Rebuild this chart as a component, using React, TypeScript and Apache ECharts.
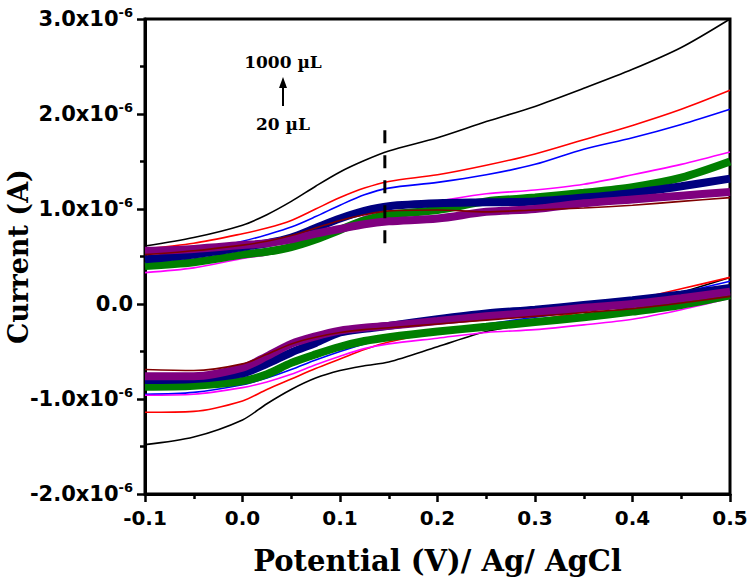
import React, { useEffect, useRef } from "react";
import * as echarts from "echarts";

// Potential grid (V vs Ag/AgCl)
const potentials = [-0.1, -0.05, 0, 0.025, 0.05, 0.075, 0.1, 0.125, 0.15, 0.2, 0.25, 0.3, 0.35, 0.4, 0.45, 0.5];

// Anodic (upper) branch currents, x10^-6 A
const blackUp = [0.61, 0.7, 0.83, 0.94, 1.08, 1.24, 1.39, 1.51, 1.61, 1.75, 1.92, 2.08, 2.27, 2.47, 2.7, 3.0];
const redUp = [0.58, 0.64, 0.74, 0.8, 0.88, 1.0, 1.12, 1.22, 1.29, 1.36, 1.46, 1.58, 1.73, 1.88, 2.05, 2.25];
const blueUp = [0.47, 0.54, 0.66, 0.73, 0.81, 0.92, 1.04, 1.15, 1.22, 1.28, 1.36, 1.47, 1.63, 1.75, 1.89, 2.05];
const magentaUp = [0.33, 0.38, 0.48, 0.52, 0.58, 0.68, 0.8, 0.92, 1.0, 1.08, 1.16, 1.2, 1.26, 1.36, 1.47, 1.6];
const greenUp = [0.4, 0.44, 0.52, 0.55, 0.6, 0.68, 0.78, 0.88, 0.94, 0.99, 1.08, 1.12, 1.17, 1.23, 1.33, 1.5];
const navyUp = [0.47, 0.52, 0.6, 0.64, 0.7, 0.8, 0.9, 0.98, 1.03, 1.06, 1.07, 1.08, 1.12, 1.17, 1.24, 1.32];
const purpleUp = [0.56, 0.58, 0.62, 0.64, 0.68, 0.74, 0.79, 0.84, 0.87, 0.9, 0.97, 1.0, 1.06, 1.1, 1.14, 1.18];
const darkRedUp = [0.52, 0.56, 0.62, 0.66, 0.72, 0.8, 0.88, 0.94, 0.98, 0.99, 0.97, 0.99, 1.01, 1.04, 1.08, 1.12];

// Cathodic (lower) branch currents, x10^-6 A
const blackDown = [-1.48, -1.4, -1.22, -1.05, -0.9, -0.78, -0.7, -0.65, -0.61, -0.45, -0.29, -0.2, -0.13, -0.03, 0.12, 0.28];
const redDown = [-1.14, -1.13, -1.02, -0.9, -0.79, -0.68, -0.58, -0.48, -0.4, -0.3, -0.24, -0.17, -0.08, 0.04, 0.16, 0.28];
const blueDown = [-0.95, -0.93, -0.85, -0.78, -0.69, -0.59, -0.5, -0.42, -0.36, -0.28, -0.21, -0.14, -0.07, 0.01, 0.12, 0.24];
const magentaDown = [-0.96, -0.95, -0.88, -0.82, -0.74, -0.64, -0.55, -0.47, -0.42, -0.36, -0.3, -0.27, -0.22, -0.16, -0.06, 0.06];
const greenDown = [-0.87, -0.86, -0.81, -0.74, -0.62, -0.53, -0.45, -0.39, -0.35, -0.29, -0.24, -0.19, -0.14, -0.08, -0.01, 0.09];
const navyDown = [-0.8, -0.79, -0.73, -0.63, -0.51, -0.41, -0.3, -0.26, -0.23, -0.16, -0.1, -0.06, -0.01, 0.04, 0.1, 0.17];
const purpleDown = [-0.76, -0.76, -0.67, -0.55, -0.42, -0.34, -0.28, -0.25, -0.23, -0.18, -0.13, -0.09, -0.04, 0.0, 0.06, 0.13];
const darkRedDown = [-0.69, -0.7, -0.63, -0.53, -0.42, -0.35, -0.3, -0.27, -0.25, -0.21, -0.17, -0.13, -0.09, -0.05, 0.01, 0.08];

// Dashed marker line
const dashPotential = [0.146, 0.146];
const dashCurrent = [1.83, 0.59];

const yTicks = { min: -2e-6, max: 3e-6, interval: 1e-6 };
const xTicks = { min: -0.1, max: 0.5, interval: 0.1 };

const curves = [
  { name: "1000 µL", color: "#000000", width: 1.6, up: blackUp, down: blackDown },
  { name: "red", color: "#ff0000", width: 1.6, up: redUp, down: redDown },
  { name: "blue", color: "#0000ff", width: 1.6, up: blueUp, down: blueDown },
  { name: "magenta", color: "#ff00ff", width: 1.6, up: magentaUp, down: magentaDown },
  { name: "green", color: "#007f00", width: 8, up: greenUp, down: greenDown },
  { name: "navy", color: "#00007f", width: 8, up: navyUp, down: navyDown },
  { name: "purple", color: "#7f007f", width: 8, up: purpleUp, down: purpleDown },
  { name: "20 µL", color: "#7f0000", width: 1.6, up: darkRedUp, down: darkRedDown },
];

const tickFont = "DejaVu Sans";
const titleFont = "DejaVu Serif";

export default function App() {
  const ref = useRef<HTMLDivElement>(null);
  useEffect(() => {
    if (!ref.current) return;
    const chart = echarts.init(ref.current, undefined, { renderer: "svg" });
    const series: any[] = [];
    curves.forEach((c) => {
      ["up", "down"].forEach((k) => {
        const vals = (c as any)[k] as number[];
        series.push({
          name: c.name,
          type: "line",
          smooth: 0.3,
          symbol: "none",
          silent: true,
          lineStyle: { color: c.color, width: c.width },
          data: potentials.map((v, i) => [v, vals[i] * 1e-6]),
        });
      });
    });
    series.push({
      name: "marker",
      type: "line",
      symbol: "none",
      silent: true,
      lineStyle: { color: "#000", width: 3, type: [13, 12] },
      data: dashPotential.map((v, i) => [v, dashCurrent[i] * 1e-6]),
    });

    chart.setOption({
      animation: false,
      grid: {
        left: 145,
        right: 20,
        top: 19,
        bottom: 86,
        show: true,
        borderColor: "#000",
        borderWidth: 3,
        containLabel: false,
        outerBoundsMode: "none",
      },
      xAxis: {
        type: "value",
        min: xTicks.min,
        max: xTicks.max,
        interval: xTicks.interval,
        name: "Potential (V)/ Ag/ AgCl",
        nameLocation: "middle",
        nameGap: 52,
        nameMoveOverlap: false,
        nameTextStyle: { fontFamily: titleFont, fontWeight: "bold", fontSize: 29, color: "#000" },
        axisLine: { show: true, onZero: false, lineStyle: { color: "#000", width: 3 } },
        axisTick: { show: true, length: 8, lineStyle: { color: "#000", width: 2.5 } },
        minorTick: { show: true, splitNumber: 2, length: 5, lineStyle: { color: "#000", width: 2.5 } },
        splitLine: { show: false },
        axisLabel: {
          margin: 14,
          color: "#000",
          fontFamily: tickFont,
          fontWeight: "bold",
          fontSize: 20,
          formatter: (v: number) => (Math.round(v * 10) / 10).toFixed(1),
        },
      },
      yAxis: {
        type: "value",
        min: yTicks.min,
        max: yTicks.max,
        interval: yTicks.interval,
        name: "Current (A)",
        nameLocation: "middle",
        nameGap: 113,
        nameMoveOverlap: false,
        nameTextStyle: { fontFamily: titleFont, fontWeight: "bold", fontSize: 27, color: "#000" },
        axisLine: { show: true, onZero: false, lineStyle: { color: "#000", width: 3 } },
        axisTick: { show: true, length: 8, lineStyle: { color: "#000", width: 2.5 } },
        minorTick: { show: true, splitNumber: 2, length: 5, lineStyle: { color: "#000", width: 2.5 } },
        splitLine: { show: false },
        axisLabel: {
          margin: 12,
          color: "#000",
          formatter: (v: number) => {
            const m = Math.round(v * 1e7) / 10;
            if (m === 0) return "{m|0.0}";
            return `{m|${m.toFixed(1)}x10}{s|-6}`;
          },
          rich: {
            m: { fontFamily: tickFont, fontWeight: "bold", fontSize: 21, color: "#000", lineHeight: 26 },
            s: { fontFamily: tickFont, fontWeight: "bold", fontSize: 13, color: "#000", verticalAlign: "top", lineHeight: 14 },
          },
        },
      },
      graphic: [
        {
          type: "text",
          x: 283,
          y: 62,
          style: { text: "1000 µL", fontFamily: titleFont, fontWeight: "bold", fontSize: 17, fill: "#000", textAlign: "center", textVerticalAlign: "middle" },
        },
        {
          type: "text",
          x: 283,
          y: 124,
          style: { text: "20 µL", fontFamily: titleFont, fontWeight: "bold", fontSize: 17, fill: "#000", textAlign: "center", textVerticalAlign: "middle" },
        },
        {
          type: "line",
          shape: { x1: 283, y1: 106, x2: 283, y2: 86 },
          style: { stroke: "#000", lineWidth: 2 },
        },
        {
          type: "polygon",
          shape: { points: [[283, 77], [279, 88], [287, 88]] },
          style: { fill: "#000" },
        },
      ],
      series,
    });
    return () => chart.dispose();
  }, []);
  return <div ref={ref} style={{ position: "absolute", left: 0, top: 0, width: 750, height: 580, background: "#fff" }} />;
}
